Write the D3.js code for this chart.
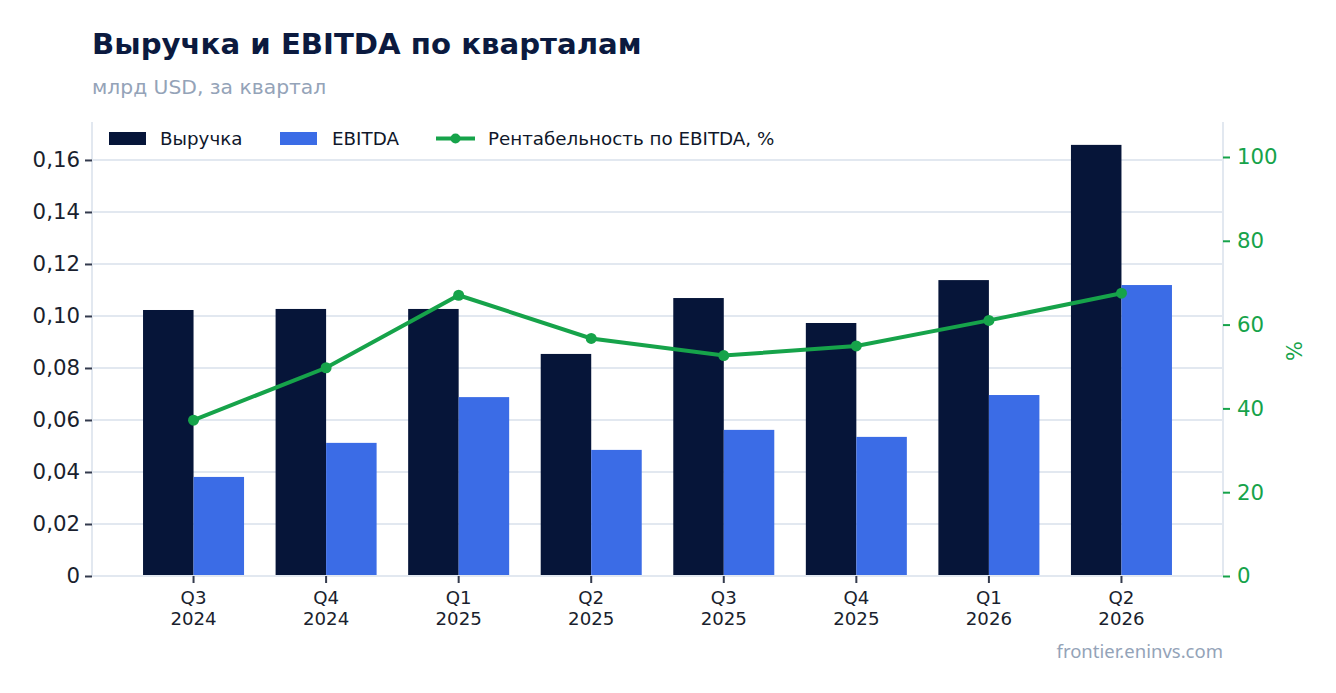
<!DOCTYPE html>
<html>
<head>
<meta charset="utf-8">
<script src="https://cdn.jsdelivr.net/npm/d3@7"></script>
<style>
  body { margin: 0; background: #fff; }
  svg { font-family: "DejaVu Sans", sans-serif; }
</style>
</head>
<body>
<div id="main"></div>
<script>
// данные по кварталам
const quarters = ["Q3 2024", "Q4 2024", "Q1 2025", "Q2 2025", "Q3 2025", "Q4 2025", "Q1 2026", "Q2 2026"];
const revenue = [0.1023, 0.1027, 0.1027, 0.0854, 0.1069, 0.0973, 0.1138, 0.1658];
const ebitda = [0.0381, 0.0512, 0.0688, 0.0485, 0.0562, 0.0535, 0.0696, 0.1119];
const margin = [37.2, 49.7, 67.0, 56.7, 52.6, 54.9, 61.0, 67.5];
const leftTicks = [0, 0.02, 0.04, 0.06, 0.08, 0.1, 0.12, 0.14, 0.16];
const rightTicks = [0, 20, 40, 60, 80, 100];

const W = 1336, H = 693;
const m = {top: 122, right: 113, bottom: 117, left: 92},
  width = W - m.left - m.right,
  height = H - m.top - m.bottom;

const cDark = "#061539", cBlue = "#3b6ce6", cGreen = "#16a34a", cGrid = "#e2e8f0";

const svg = d3.select("#main").append("svg")
  .attr("width", W).attr("height", H);

svg.append("text").attr("x", 92).attr("y", 54)
  .attr("font-size", 29.2).attr("font-weight", "bold").attr("fill", "#0b1a3f")
  .text("Выручка и EBITDA по кварталам");
svg.append("text").attr("x", 92).attr("y", 94)
  .attr("font-size", 20.3).attr("fill", "#94a3b8")
  .text("млрд USD, за квартал");
svg.append("text").attr("x", 1223).attr("y", 658)
  .attr("text-anchor", "end").attr("font-family", "Noto Sans")
  .attr("font-size", 18.5).attr("fill", "#94a3b8")
  .text("frontier.eninvs.com");

const g = svg.append("g").attr("transform", `translate(${m.left},${m.top})`);

const x = d3.scaleBand().domain(quarters).range([0, width])
  .paddingInner(0.238).paddingOuter(0.385);
const xs = d3.scaleBand().domain(["rev", "ebitda"]).range([0, x.bandwidth()]);
const y = d3.scaleLinear().domain([0, 0.1746]).range([height, 0]);
const y2 = d3.scaleLinear().domain([0, 108.35]).range([height, 0]);

// сетка
g.append("g").selectAll("line").data(leftTicks.slice(1)).join("line")
  .attr("x1", 0).attr("x2", width)
  .attr("y1", d => y(d)).attr("y2", d => y(d))
  .attr("stroke", cGrid).attr("stroke-width", 2);

const fmt = d => d === 0 ? "0" : d3.format(".2f")(d).replace(".", ",");

const yAxis = g.append("g")
  .call(d3.axisLeft(y).tickValues(leftTicks).tickFormat(fmt).tickSize(7).tickPadding(5));
yAxis.select(".domain").attr("stroke", cGrid).attr("stroke-width", 2).attr("d", `M0,0V${height}`);
yAxis.selectAll(".tick line").attr("stroke", "#333a4d").attr("stroke-width", 2);
yAxis.selectAll(".tick text").attr("font-size", 21.3).attr("fill", "#1a1f2e").attr("font-family", "DejaVu Sans");

const y2Axis = g.append("g").attr("transform", `translate(${width},0)`)
  .call(d3.axisRight(y2).tickValues(rightTicks).tickSize(7).tickPadding(7));
y2Axis.select(".domain").attr("stroke", cGrid).attr("stroke-width", 2).attr("d", `M0,0V${height}`);
y2Axis.selectAll(".tick line").attr("stroke", cGreen).attr("stroke-width", 2);
y2Axis.selectAll(".tick text").attr("font-size", 21.3).attr("fill", cGreen).attr("font-family", "DejaVu Sans");

svg.append("text")
  .attr("transform", `translate(1302,351) rotate(-90)`)
  .attr("text-anchor", "middle").attr("font-size", 21).attr("fill", cGreen)
  .text("%");

// бары
const grp = g.append("g").selectAll("g").data(quarters).join("g")
  .attr("transform", d => `translate(${x(d)},0)`);
grp.append("rect")
  .attr("x", xs("rev")).attr("width", xs.bandwidth())
  .attr("y", (d, i) => y(revenue[i])).attr("height", (d, i) => height - y(revenue[i]))
  .attr("fill", cDark);
grp.append("rect")
  .attr("x", xs("ebitda")).attr("width", xs.bandwidth())
  .attr("y", (d, i) => y(ebitda[i])).attr("height", (d, i) => height - y(ebitda[i]))
  .attr("fill", cBlue);

// ось X
const xAxis = g.append("g").attr("transform", `translate(0,${height})`)
  .call(d3.axisBottom(x).tickSize(7).tickPadding(8));
xAxis.select(".domain").attr("stroke", cGrid).attr("stroke-width", 2).attr("d", `M0,0H${width}`);
xAxis.selectAll(".tick line").attr("stroke", "#333a4d").attr("stroke-width", 2);
xAxis.selectAll(".tick text").each(function(d) {
  const t = d3.select(this).text("").attr("font-size", 18.2).attr("fill", "#1a1f2e").attr("font-family", "DejaVu Sans");
  const parts = d.split(" ");
  t.append("tspan").attr("x", 0).attr("dy", "0.71em").text(parts[0]);
  t.append("tspan").attr("x", 0).attr("dy", "1.15em").text(parts[1]);
});

// линия рентабельности
const cx = d => x(d) + x.bandwidth() / 2;
g.append("path").datum(quarters)
  .attr("fill", "none").attr("stroke", cGreen).attr("stroke-width", 4)
  .attr("d", d3.line().x(d => cx(d)).y((d, i) => y2(margin[i])));
g.append("g").selectAll("circle").data(quarters).join("circle")
  .attr("cx", d => cx(d)).attr("cy", (d, i) => y2(margin[i])).attr("r", 5.5)
  .attr("fill", cGreen);

// легенда
const leg = svg.append("g").attr("font-size", 18.3).attr("fill", "#0f172a");
leg.append("rect").attr("x", 109).attr("y", 132).attr("width", 37).attr("height", 13).attr("fill", cDark);
leg.append("text").attr("x", 160).attr("y", 145).text("Выручка");
leg.append("rect").attr("x", 280).attr("y", 132).attr("width", 37).attr("height", 13).attr("fill", cBlue);
leg.append("text").attr("x", 332).attr("y", 145).text("EBITDA");
leg.append("line").attr("x1", 436).attr("x2", 475).attr("y1", 138.5).attr("y2", 138.5)
  .attr("stroke", cGreen).attr("stroke-width", 4);
leg.append("circle").attr("cx", 455.5).attr("cy", 138.5).attr("r", 5).attr("fill", cGreen);
leg.append("text").attr("x", 488).attr("y", 145).text("Рентабельность по EBITDA, %");
</script>
</body>
</html>
